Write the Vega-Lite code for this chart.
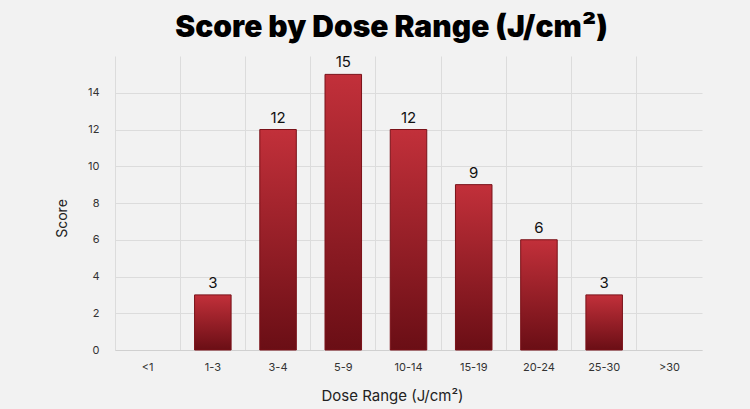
{
  "$schema": "https://vega.github.io/schema/vega-lite/v6.json",
  "autosize": "none",
  "width": 587,
  "height": 294,
  "padding": {"left": 115, "top": 56, "right": 48, "bottom": 59},
  "background": "#f2f2f2",
  "title": {
    "text": "Score by Dose Range (J/cm²)",
    "font": "Inter",
    "fontSize": 30,
    "fontWeight": 900,
    "color": "#000000",
    "anchor": "middle",
    "dx": -17,
    "offset": 12
  },
  "data": {
    "values": [
      {"dose": "1-3", "score": 3},
      {"dose": "3-4", "score": 12},
      {"dose": "5-9", "score": 15},
      {"dose": "10-14", "score": 12},
      {"dose": "15-19", "score": 9},
      {"dose": "20-24", "score": 6},
      {"dose": "25-30", "score": 3}
    ]
  },
  "encoding": {
    "x": {
      "field": "dose",
      "type": "nominal",
      "scale": {
        "domain": ["<1", "1-3", "3-4", "5-9", "10-14", "15-19", "20-24", "25-30", ">30"],
        "paddingInner": 0,
        "paddingOuter": 0
      },
      "axis": {
        "title": "Dose Range (J/cm²)",
        "labelAngle": 0,
        "grid": true,
        "bandPosition": 0,
        "ticks": false,
        "labelPadding": 11,
        "titlePadding": 16,
        "titleFontSize": 15,
        "titleX": 277
      }
    },
    "y": {
      "field": "score",
      "type": "quantitative",
      "scale": {"domain": [0, 16]},
      "axis": {
        "title": "Score",
        "values": [0, 2, 4, 6, 8, 10, 12, 14],
        "domain": false,
        "ticks": false,
        "labelPadding": 16,
        "titlePadding": 18,
        "titleFontSize": 14,
        "titleY": 162
      }
    }
  },
  "layer": [
    {
      "mark": {
        "type": "bar",
        "width": {"band": 0.56},
        "stroke": "#7a1118",
        "strokeWidth": 1,
        "color": {
          "gradient": "linear",
          "x1": 0, "y1": 0, "x2": 0, "y2": 1,
          "stops": [
            {"offset": 0, "color": "#c2303a"},
            {"offset": 1, "color": "#6a0e15"}
          ]
        }
      }
    },
    {
      "mark": {
        "type": "text",
        "baseline": "bottom",
        "dy": -4,
        "font": "Inter",
        "fontSize": 15,
        "color": "#111111"
      },
      "encoding": {"text": {"field": "score", "type": "quantitative"}}
    }
  ],
  "config": {
    "view": {"stroke": null},
    "axis": {
      "labelFont": "Inter",
      "titleFont": "Inter",
      "labelFontSize": 11,
      "labelColor": "#333333",
      "titleColor": "#222222",
      "titleFontWeight": "normal",
      "gridColor": "#dcdcdc",
      "domainColor": "#d0d0d0"
    }
  }
}
